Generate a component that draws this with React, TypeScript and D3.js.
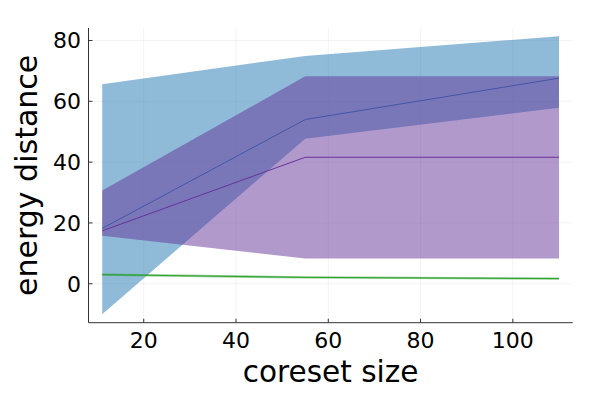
import React from "react";
import * as d3 from "d3";

const coresetSizes = [11, 55, 110];

const series1Mean = [18.2, 54.0, 67.6];
const series1Lower = [-10.0, 47.7, 57.9];
const series1Upper = [65.6, 74.9, 81.4];

const series2Mean = [17.4, 41.6, 41.6];
const series2Lower = [15.8, 8.3, 8.3];
const series2Upper = [30.7, 68.2, 68.2];

const series3Mean = [3.0, 2.1, 1.7];
const series3Lower = [2.6, 1.7, 1.3];
const series3Upper = [3.4, 2.5, 2.1];

const xTicks = [20, 40, 60, 80, 100];
const yTicks = [0, 20, 40, 60, 80];

const W = 600;
const H = 400;
const left = 88.5;
const right = 572.7;
const top = 28;
const bottom = 322.7;

const FONT = "DejaVu Sans";

export default function App() {
  const x = d3.scaleLinear().domain([8.03, 112.97]).range([left, right]);
  const y = d3.scaleLinear().domain([-12.8, 84.1]).range([bottom, top]);

  const area = (lo: number[], hi: number[]) =>
    d3
      .area<number>()
      .x((_, i) => x(coresetSizes[i]))
      .y0((_, i) => y(lo[i]))
      .y1((_, i) => y(hi[i]))(coresetSizes.map((_, i) => i)) || "";
  const line = (v: number[]) =>
    d3
      .line<number>()
      .x((_, i) => x(coresetSizes[i]))
      .y((_, i) => y(v[i]))(coresetSizes.map((_, i) => i)) || "";

  const blue = "#1f77b4";
  const purple = "#663399";
  const green = "#2ca02c";

  return (
    <svg width={W} height={H} style={{ position: "absolute", left: 0, top: 0, background: "#fff" }}>
      <rect x={0} y={0} width={W} height={H} fill="#fff" />
      {xTicks.map((t) => (
        <line key={"gx" + t} x1={x(t)} x2={x(t)} y1={top} y2={bottom} stroke="#000" strokeOpacity={0.1} strokeWidth={0.5} />
      ))}
      {yTicks.map((t) => (
        <line key={"gy" + t} x1={left} x2={right} y1={y(t)} y2={y(t)} stroke="#000" strokeOpacity={0.1} strokeWidth={0.5} />
      ))}
      <path d={area(series1Lower, series1Upper)} fill={blue} fillOpacity={0.5} />
      <path d={line(series1Mean)} fill="none" stroke={blue} strokeWidth={1} />
      <path d={area(series2Lower, series2Upper)} fill={purple} fillOpacity={0.5} />
      <path d={line(series2Mean)} fill="none" stroke={purple} strokeWidth={1} />
      <path d={area(series3Lower, series3Upper)} fill={green} fillOpacity={0.5} />
      <path d={line(series3Mean)} fill="none" stroke={green} strokeWidth={1} />
      <line x1={left} x2={left} y1={top} y2={bottom} stroke="#333" strokeWidth={1} />
      <line x1={left} x2={right} y1={bottom} y2={bottom} stroke="#333" strokeWidth={1} />
      {xTicks.map((t) => (
        <g key={"xt" + t}>
          <line x1={x(t)} x2={x(t)} y1={bottom} y2={bottom - 4} stroke="#333" strokeWidth={1} />
          <text x={x(t)} y={347.7} textAnchor="middle" fontFamily={FONT} fontSize={22} fill="#000">
            {t}
          </text>
        </g>
      ))}
      {yTicks.map((t) => (
        <g key={"yt" + t}>
          <line x1={left} x2={left + 4} y1={y(t)} y2={y(t)} stroke="#333" strokeWidth={1} />
          <text x={81} y={y(t)} dy="0.36em" textAnchor="end" fontFamily={FONT} fontSize={22} fill="#000">
            {t}
          </text>
        </g>
      ))}
      <text x={(left + right) / 2} y={381.7} textAnchor="middle" fontFamily={FONT} fontSize={29.5} fill="#000">
        coreset size
      </text>
      <text
        transform={`translate(37,${(top + bottom) / 2}) rotate(-90)`}
        textAnchor="middle"
        fontFamily={FONT}
        fontSize={30}
        fill="#000"
      >
        energy distance
      </text>
    </svg>
  );
}
